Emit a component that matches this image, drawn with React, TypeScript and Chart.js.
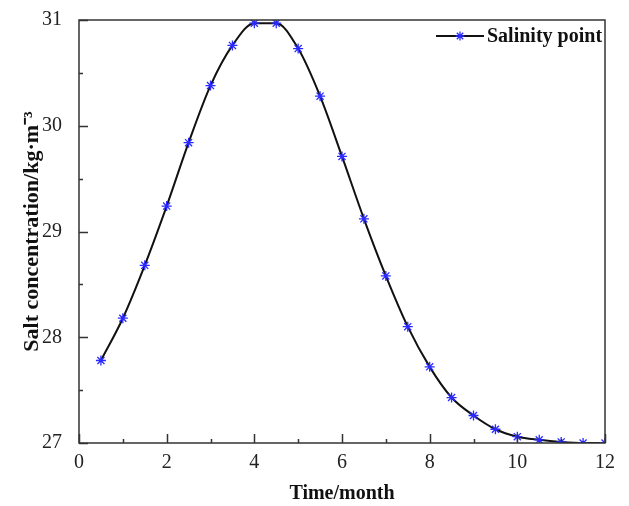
import React, { useEffect, useRef } from "react";
import { Chart, registerables } from "chart.js";

Chart.register(...registerables);

const months = [0.5, 1, 1.5, 2, 2.5, 3, 3.5, 4, 4.5, 5, 5.5, 6, 6.5, 7, 7.5, 8, 8.5, 9, 9.5, 10, 10.5, 11, 11.5, 12];
const salinity = [27.78, 28.18, 28.68, 29.24, 29.84, 30.38, 30.76, 30.97, 30.97, 30.73, 30.28, 29.71, 29.12, 28.58, 28.1, 27.72, 27.43, 27.26, 27.13, 27.06, 27.03, 27.01, 27.0, 27.0];
const seriesLabel = "Salinity point";
const xTitle = "Time/month";
const yTitle = "Salt concentration/kg·m⁻³";
const xRange = [0, 12];
const yRange = [27, 31];
const xMajorStep = 2;
const yMajorStep = 1;

const FONT = "'Liberation Serif', 'Times New Roman', serif";
const MARKER = "#2a2aff";

const framePlugin = {
  id: "frameTicks",
  afterDraw(chart: any) {
    const { ctx, chartArea } = chart;
    const { left, right, top, bottom } = chartArea;
    const xs = chart.scales.x;
    const ys = chart.scales.y;
    ctx.save();
    ctx.strokeStyle = "#333";
    ctx.lineWidth = 1.5;
    ctx.strokeRect(left, top, right - left, bottom - top);
    ctx.beginPath();
    for (let v = xRange[0]; v <= xRange[1] + 1e-9; v += xMajorStep / 2) {
      const px = Math.round(xs.getPixelForValue(v)) + 0.5;
      const major = Math.abs(v / xMajorStep - Math.round(v / xMajorStep)) < 1e-6;
      const len = major ? 9 : 4;
      ctx.moveTo(px, bottom);
      ctx.lineTo(px, bottom - len);
    }
    for (let v = yRange[0]; v <= yRange[1] + 1e-9; v += yMajorStep / 2) {
      const py = Math.round(ys.getPixelForValue(v)) + 0.5;
      const major = Math.abs(v / yMajorStep - Math.round(v / yMajorStep)) < 1e-6;
      const len = major ? 9 : 4;
      ctx.moveTo(left, py);
      ctx.lineTo(left + len, py);
    }
    ctx.stroke();

    // legend
    const ly = top + 16;
    const lx1 = right - 169;
    const lx2 = right - 121;
    ctx.strokeStyle = "#111";
    ctx.lineWidth = 2;
    ctx.beginPath();
    ctx.moveTo(lx1, ly);
    ctx.lineTo(lx2, ly);
    ctx.stroke();
    const mx = (lx1 + lx2) / 2;
    const r = 4.5;
    ctx.strokeStyle = MARKER;
    ctx.lineWidth = 1.3;
    ctx.beginPath();
    ctx.moveTo(mx - r, ly);
    ctx.lineTo(mx + r, ly);
    ctx.moveTo(mx, ly - r);
    ctx.lineTo(mx, ly + r);
    const d = r * 0.707;
    ctx.moveTo(mx - d, ly - d);
    ctx.lineTo(mx + d, ly + d);
    ctx.moveTo(mx - d, ly + d);
    ctx.lineTo(mx + d, ly - d);
    ctx.stroke();
    ctx.fillStyle = "#111";
    ctx.font = `bold 20px ${FONT}`;
    ctx.textAlign = "left";
    ctx.textBaseline = "middle";
    ctx.fillText(chart.data.datasets[0].label, lx2 + 3, ly + 1);
    ctx.restore();
  },
};

export default function App() {
  const ref = useRef<HTMLCanvasElement>(null);
  useEffect(() => {
    if (!ref.current) return;
    const chart = new Chart(ref.current, {
      type: "line",
      data: {
        datasets: [
          {
            label: seriesLabel,
            data: months.map((m, i) => ({ x: m, y: salinity[i] })),
            borderColor: "#111",
            borderWidth: 2,
            cubicInterpolationMode: "monotone",
            pointStyle: "star",
            pointRadius: 5,
            pointBorderWidth: 1.3,
            pointBorderColor: MARKER,
            pointBackgroundColor: MARKER,
            fill: false,
          },
        ],
      },
      plugins: [framePlugin],
      options: {
        responsive: false,
        animation: false,
        layout: { padding: { left: 0, top: 20, right: 24, bottom: 0 } },
        plugins: { legend: { display: false }, tooltip: { enabled: false } },
        scales: {
          x: {
            type: "linear",
            min: xRange[0],
            max: xRange[1],
            grid: { display: false, drawTicks: false },
            border: { display: false },
            ticks: {
              stepSize: xMajorStep,
              padding: 8,
              color: "#222",
              font: { family: FONT, size: 20 },
              maxRotation: 0,
            },
            title: {
              display: true,
              text: xTitle,
              color: "#111",
              font: { family: FONT, size: 20, weight: "bold" },
              padding: { top: 0, bottom: 0 },
            },
            afterFit: (s: any) => {
              s.height = 63;
              s.paddingLeft = 0;
              s.paddingRight = 0;
            },
          },
          y: {
            type: "linear",
            min: yRange[0],
            max: yRange[1],
            grid: { display: false, drawTicks: false },
            border: { display: false },
            ticks: {
              stepSize: yMajorStep,
              padding: 17,
              color: "#222",
              font: { family: FONT, size: 20 },
            },
            title: {
              display: true,
              text: yTitle,
              color: "#111",
              font: { family: FONT, size: 22, weight: "bold" },
              padding: { top: 19, bottom: 0 },
            },
            afterFit: (s: any) => {
              s.width = 79;
              s.paddingTop = 0;
              s.paddingBottom = 0;
            },
          },
        },
      },
    } as any);
    return () => chart.destroy();
  }, []);
  return (
    <canvas
      ref={ref}
      width={629}
      height={506}
      style={{ position: "absolute", left: 0, top: 0, display: "block" }}
    />
  );
}
